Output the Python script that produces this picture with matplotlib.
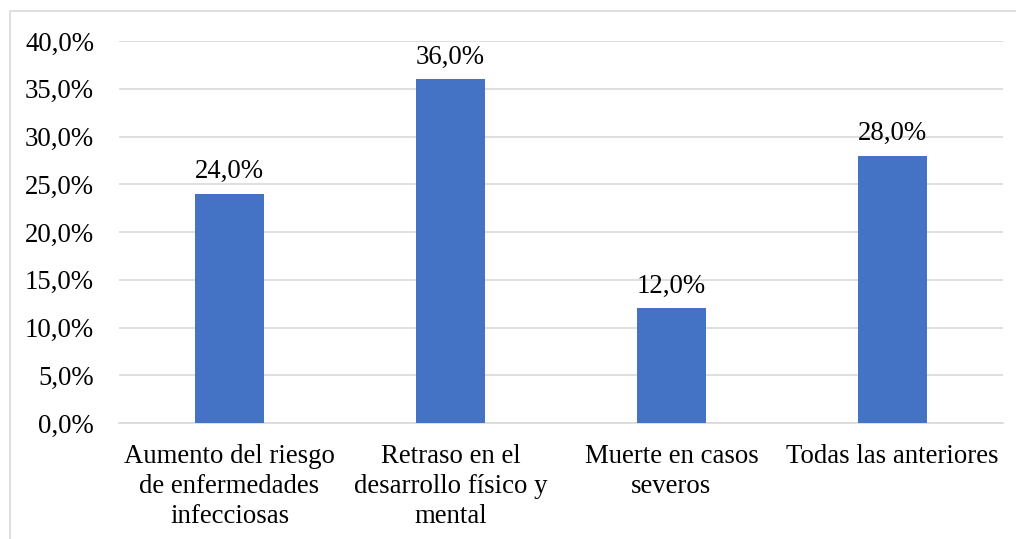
import matplotlib.pyplot as plt
from matplotlib.patches import Rectangle

categories = ['Aumento del riesgo\nde enfermedades\ninfecciosas',
              'Retraso en el\ndesarrollo físico y\nmental',
              'Muerte en casos\nseveros',
              'Todas las anteriores']
values = [0.24, 0.36, 0.12, 0.28]
yticks = [0.0, 0.05, 0.10, 0.15, 0.20, 0.25, 0.30, 0.35, 0.40]

plt.rcParams['font.family'] = ['Liberation Serif', 'DejaVu Serif']
fs = 19.3

fig = plt.figure(figsize=(10.16, 5.39), dpi=100)
ax = fig.add_axes([119 / 1016, 1 - 423 / 539, 884 / 1016, 382 / 539])

# outer chart border (only left and top visible in the reference)
fig.patches.append(Rectangle((10 / 1016, -0.1), 1.2, 1 - 11 / 539 + 0.1,
                             transform=fig.transFigure, fill=False,
                             edgecolor='#D9D9D9', linewidth=1.2))

x = range(len(categories))
bars = ax.bar(x, values, width=0.31, color='#4472C4', zorder=3)

for xi, v in zip(x, values):
    ax.annotate(f'{v * 100:.1f}%'.replace('.', ','), (xi, v),
                xytext=(0, 7), textcoords='offset points',
                ha='center', va='bottom', fontsize=fs)

ax.set_xlim(-0.5, len(categories) - 0.5)
ax.set_ylim(0, 0.40)
ax.set_yticks(yticks)
ax.set_yticklabels([f'{t * 100:.1f}%'.replace('.', ',') for t in yticks])
ax.set_xticks(list(x))
ax.set_xticklabels(categories, linespacing=1.26)

ax.grid(axis='y', color='#D9D9D9', linewidth=1.2, zorder=0)
for s in ['top', 'right', 'left']:
    ax.spines[s].set_visible(False)
ax.spines['bottom'].set_color('#D9D9D9')
ax.spines['bottom'].set_linewidth(1.2)
ax.tick_params(axis='both', length=0, labelsize=fs)
ax.tick_params(axis='y', pad=18)
ax.tick_params(axis='x', pad=15)

fig.savefig('out.png', dpi=100)
